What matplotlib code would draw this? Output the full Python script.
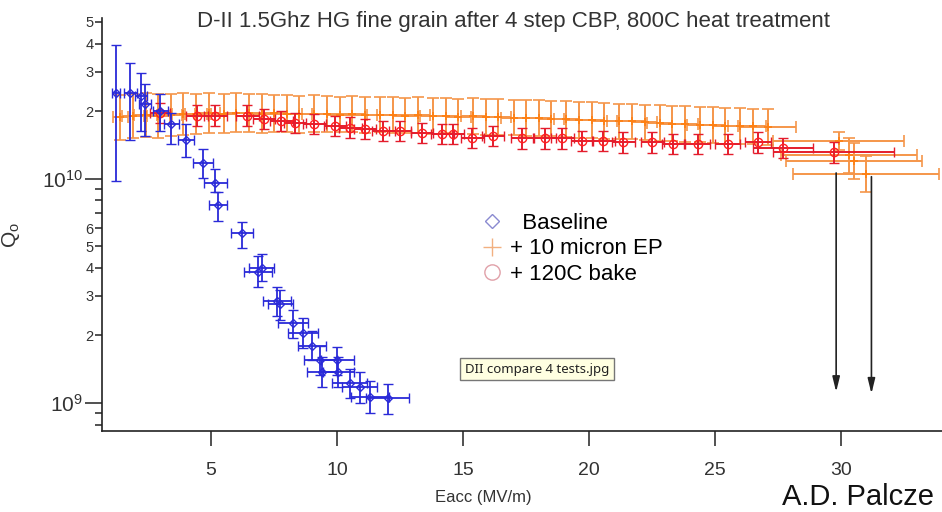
import numpy as np
import matplotlib.pyplot as plt
from matplotlib.lines import Line2D
from matplotlib.ticker import FixedLocator, FuncFormatter

plt.rcParams['font.family'] = ['Liberation Sans', 'DejaVu Sans']
plt.rcParams['mathtext.fontset'] = 'custom'
plt.rcParams['mathtext.rm'] = 'Liberation Sans'
plt.rcParams['mathtext.it'] = 'Liberation Sans:italic'

# Baseline (Q in units of 1e9)
base_eacc = [1.23, 1.79, 2.22, 2.38, 2.98, 3.41, 4.00, 4.68, 5.16, 5.28, 6.23, 6.85, 7.00,
             7.60, 7.75, 8.25, 8.65, 9.00, 9.33, 9.40, 10.00, 10.05, 10.50, 10.90, 11.30, 12.00]
base_q = [24.1, 24.0, 23.4, 21.5, 20.0, 17.5, 14.9, 11.7, 9.6, 7.6, 5.7, 3.85, 4.0,
          2.85, 2.75, 2.27, 2.05, 1.8, 1.55, 1.37, 1.55, 1.37, 1.23, 1.18, 1.06, 1.05]
base_q_lo = [9.8, 14.9, 16.3, 15.5, 16.3, 14.3, 12.5, 10.1, 8.7, 6.5, 4.9, 3.3, 3.5,
             2.45, 2.35, 1.95, 1.75, 1.55, 1.33, 1.18, 1.33, 1.18, 1.05, 1.0, 0.9, 0.89]
base_q_hi = [39.5, 32.8, 29.6, 26.4, 23.9, 19.7, 17.6, 13.5, 11.0, 8.7, 6.4, 4.5, 4.6,
             3.3, 3.2, 2.6, 2.4, 2.1, 1.8, 1.6, 1.78, 1.6, 1.42, 1.38, 1.25, 1.22]
base_xerr = [0.15, 0.25, 0.25, 0.25, 0.3, 0.3, 0.3, 0.4, 0.45, 0.35, 0.45, 0.55, 0.5,
             0.55, 0.5, 0.6, 0.6, 0.55, 0.65, 0.6, 0.65, 0.6, 0.7, 0.7, 0.75, 0.85]

# + 10 micron EP
ep_eacc = [1.4, 1.9, 2.4, 2.9, 3.4, 3.9, 4.4, 4.9, 5.5, 6.0, 6.5, 7.0, 7.5, 8.0, 8.5, 9.1,
           9.6, 10.1, 10.6, 11.1, 11.7, 12.2, 12.7, 13.2, 13.8, 14.3, 14.8, 15.4, 15.9, 16.4,
           17.0, 17.5, 18.0, 18.5, 19.1, 19.6, 20.1, 20.6, 21.2, 21.7, 22.2, 22.8, 23.3, 23.8,
           24.4, 24.9, 25.4, 26.0, 26.5, 27.1, 29.9, 30.3, 30.5, 31.0]
ep_q = [18.8, 19.0, 19.2, 19.0, 19.3, 19.5, 19.4, 19.6, 19.5, 19.7, 19.6, 19.5, 19.6, 19.5,
        19.4, 19.5, 19.4, 19.3, 19.4, 19.2, 19.3, 19.2, 19.1, 19.2, 19.0, 19.1, 18.9, 19.0,
        18.8, 18.8, 18.7, 18.6, 18.6, 18.5, 18.4, 18.3, 18.3, 18.1, 18.0, 18.0, 17.8, 17.7,
        17.6, 17.5, 17.4, 17.3, 17.2, 17.2, 17.1, 17.0, 14.7, 12.7, 12.0, 10.5]
ep_fac = [1.26, 1.25, 1.25, 1.25, 1.24, 1.24, 1.23, 1.23, 1.22, 1.22, 1.22, 1.22, 1.21, 1.21,
          1.21, 1.21, 1.2, 1.2, 1.2, 1.2, 1.2, 1.2, 1.2, 1.2, 1.2, 1.2, 1.2, 1.2, 1.2, 1.2,
          1.2, 1.2, 1.2, 1.2, 1.2, 1.2, 1.2, 1.2, 1.2, 1.2, 1.2, 1.2, 1.2, 1.2, 1.2, 1.2,
          1.2, 1.2, 1.2, 1.2, 1.1, 1.2, 1.2, 1.2]
ep_xerr = [0.3, 0.45, 0.45, 0.45, 0.45, 0.45, 0.45, 0.45, 0.5, 0.5, 0.5, 0.5, 0.5, 0.5, 0.5,
           0.5, 0.5, 0.5, 0.5, 0.5, 0.5, 0.5, 0.5, 0.5, 0.5, 0.5, 0.5, 0.5, 0.5, 0.5, 0.5,
           0.5, 0.5, 0.5, 0.5, 0.5, 0.5, 0.5, 0.5, 0.5, 0.5, 0.5, 0.5, 0.5, 0.5, 0.5, 0.5,
           0.5, 0.5, 1.1, 2.6, 2.7, 2.7, 2.9]

# + 120C bake
bake_eacc = [2.98, 4.44, 5.16, 6.43, 7.10, 7.78, 8.33, 9.10, 9.92, 10.52, 11.11, 11.83, 12.50,
             13.37, 14.17, 14.60, 15.36, 16.19, 17.34, 18.25, 18.93, 19.72, 20.56, 21.35, 22.50,
             23.33, 24.30, 25.50, 26.70, 27.70, 29.70]
bake_q = [19.6, 19.1, 19.1, 19.1, 18.5, 18.1, 17.7, 17.5, 17.2, 16.9, 16.7, 16.3, 16.3, 16.0,
          15.8, 15.8, 15.2, 15.5, 15.1, 15.1, 15.1, 14.7, 14.7, 14.5, 14.5, 14.3, 14.3, 14.3,
          14.5, 13.7, 13.1]
bake_fac = [1.11] * len(bake_q)
bake_xerr = [0.4, 0.45, 0.45, 0.45, 0.45, 0.45, 0.45, 0.45, 0.45, 0.45, 0.45, 0.45, 0.45, 0.45,
             0.45, 0.45, 0.45, 0.45, 0.45, 0.45, 0.45, 0.45, 0.45, 0.45, 0.45, 0.45, 0.5, 0.5,
             0.5, 1.2, 2.4]

# quench arrows
arrow_eacc = [29.8, 31.2]
arrow_q_top = [10.6, 10.2]
arrow_q_bot = [1.12, 1.10]

y_major = [1e9, 1e10]
y_minor = [8e8, 9e8, 2e9, 3e9, 4e9, 5e9, 6e9, 7e9, 8e9, 9e9, 2e10, 3e10, 4e10, 5e10]
y_minor_labeled = [2, 3, 4, 5, 6]
x_ticks = [5, 10, 15, 20, 25, 30]


def asym(q, fac):
    q = np.array(q) * 1e9
    f = np.array(fac)
    return q, [q - q / f, q * f - q]


fig = plt.figure(figsize=(9.42, 5.12), dpi=100)
ax = fig.add_axes([0.1083, 0.1582, 0.8917, 0.8066])
ax.set_yscale('log')

q, err = asym(ep_q, ep_fac)
ax.errorbar(ep_eacc, q, yerr=err, xerr=ep_xerr, fmt='+', color='#ff7f10', ms=6, mew=1.2,
            ecolor='#f5964a', elinewidth=1.4, capsize=4, capthick=1.3, zorder=2)

q, err = asym(bake_q, bake_fac)
ax.errorbar(bake_eacc, q, yerr=err, xerr=bake_xerr, fmt='o', mfc='none', mec='#ff2020',
            ms=6, mew=1, ecolor='#e41c2c', elinewidth=1.4, capsize=3.5, capthick=1.3, zorder=3)

bq = np.array(base_q) * 1e9
berr = [bq - np.array(base_q_lo) * 1e9, np.array(base_q_hi) * 1e9 - bq]
ax.errorbar(base_eacc, bq, yerr=berr, xerr=base_xerr, fmt='D', mfc='none', mec='#2a2ad8',
            ms=4, mew=1, ecolor='#2a2ad8', elinewidth=1.3, capsize=3.5, capthick=1.3, zorder=4)

for e, qt, qb in zip(arrow_eacc, arrow_q_top, arrow_q_bot):
    ax.annotate('', xy=(e, qb * 1e9), xytext=(e, qt * 1e9),
                arrowprops=dict(arrowstyle='-|>,head_length=0.9,head_width=0.22',
                                color='#222222', lw=1.2, shrinkA=0, shrinkB=0), zorder=5)

ax.set_xlim(0.67, 34.0)
ax.set_ylim(7.5e8, 5.2e10)

for s in ['top', 'right']:
    ax.spines[s].set_visible(False)
for s in ['left', 'bottom']:
    ax.spines[s].set_linewidth(1.2)
    ax.spines[s].set_color('#222222')

ax.xaxis.set_major_locator(FixedLocator(x_ticks))
ax.xaxis.set_minor_locator(FixedLocator([]))
ax.tick_params(axis='x', which='major', direction='out', length=11, width=1.1,
               labelsize=14, pad=11, colors='#222222', labelcolor='#333333')

ax.yaxis.set_major_locator(FixedLocator(y_major))
ax.yaxis.set_minor_locator(FixedLocator(y_minor))
ax.yaxis.set_major_formatter(FuncFormatter(lambda v, p: r'$10^{%d}$' % round(np.log10(v))))


def minor_fmt(v, p):
    m = v / 10 ** np.floor(np.log10(v) + 1e-9)
    mi = int(round(m))
    return str(mi) if mi in y_minor_labeled and v > 1e9 else ''


ax.yaxis.set_minor_formatter(FuncFormatter(minor_fmt))
ax.tick_params(axis='y', which='major', direction='out', length=12, width=1.1,
               labelsize=15, pad=1.5, colors='#222222', labelcolor='#333333')
ax.tick_params(axis='y', which='minor', direction='out', length=5, width=1.1,
               labelsize=10.5, pad=1, colors='#222222', labelcolor='#333333')

ax.set_xlabel('Eacc (MV/m)', fontsize=12, color='#333333')
ax.xaxis.set_label_coords(0.4536, -0.143)
ax.set_ylabel(r'Q$_\mathrm{o}$', fontsize=15, color='#333333')
ax.yaxis.set_label_coords(-0.095, 0.475)

fig.text(0.5446, 1 - 21 / 512, 'D-II 1.5Ghz HG fine grain after 4 step CBP, 800C heat treatment',
         ha='center', va='center', fontsize=16, color='#333333')

handles = [
    Line2D([], [], marker='D', ls='none', mfc='none', mec='#8a8ad0', ms=7, mew=1),
    Line2D([], [], marker='+', ls='none', color='#f2b080', ms=13, mew=1),
    Line2D([], [], marker='o', ls='none', mfc='none', mec='#e0a0a8', ms=11, mew=1),
]
ax.legend(handles, ['  Baseline', '+ 10 micron EP', '+ 120C bake'], loc='upper left',
          bbox_to_anchor=(481 / 942, 1 - 213 / 512), bbox_transform=fig.transFigure,
          frameon=False, fontsize=16, handlelength=1.0, handletextpad=0.3,
          labelspacing=0.2, borderpad=0, borderaxespad=0)

fig.text(465 / 942, 1 - 369 / 512, 'DII compare 4 tests.jpg', ha='left', va='center',
         fontsize=9.5, family='Noto Sans', color='#222222',
         bbox=dict(boxstyle='square,pad=0.35', fc='#ffffe1', ec='#767676', lw=1))

fig.text(782 / 942, 1 - 505 / 512, 'A.D. Palcze', ha='left', va='baseline',
         fontsize=21, color='#111111')

fig.savefig('out.png', dpi=100)
